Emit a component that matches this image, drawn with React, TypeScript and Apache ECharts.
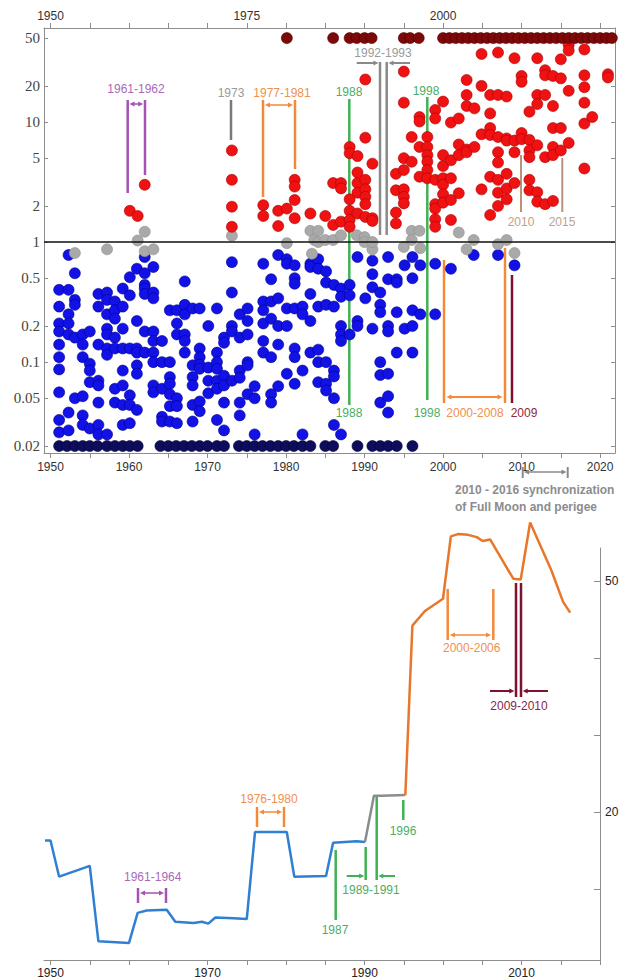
import React, { useEffect, useRef } from "react";
import * as echarts from "echarts";

// ---------- axes ----------
const YEAR_MIN = 1949.17;
const YEAR_MAX_TOP = 2021.9;
const YEAR_MAX_BOTTOM = 2020;
const RATIO_MIN = 0.0175;
const RATIO_MAX = 60.7;
const INDEX_MIN = 0.78;
const INDEX_MAX = 54.29;

const ratioTicks = [0.02, 0.05, 0.1, 0.2, 0.5, 1, 2, 5, 10, 20, 50];
const yearTicks = [1950, 1955, 1960, 1965, 1970, 1975, 1980, 1985, 1990, 1995, 2000, 2005, 2010, 2015, 2020];
const topYearLabels = [1950, 1975, 2000];
const bottomYearLabels = [1950, 1960, 1970, 1980, 1990, 2000, 2010, 2020];
const lowerYearLabels = [1950, 1970, 1990, 2010];
const indexTicks = [10, 20, 30, 40, 50];
const indexLabels = [20, 50];

// ---------- upper panel: ratio per event ----------
const belowOne: [number, number][] = [
  [1951.1, 0.4], [1951.1, 0.29], [1951.1, 0.21], [1951.1, 0.18], [1951.1, 0.14], [1951.1, 0.11], [1951.1, 0.087], [1951.1, 0.056], [1951.1, 0.033], [1951.1, 0.026],
  [1952.3, 0.78], [1952.3, 0.4], [1952.3, 0.25], [1952.3, 0.21], [1952.3, 0.17], [1952.3, 0.038], [1952.3, 0.027],
  [1953.1, 0.55], [1953.1, 0.33], [1953.1, 0.3], [1953.1, 0.16], [1953.1, 0.05],
  [1954.1, 0.17], [1954.1, 0.14], [1954.1, 0.11], [1954.1, 0.052], [1954.1, 0.036], [1954.1, 0.03],
  [1955.0, 0.18], [1955.0, 0.097], [1955.0, 0.085], [1955.0, 0.068], [1955.0, 0.028],
  [1956.1, 0.37], [1956.1, 0.29], [1956.1, 0.14], [1956.1, 0.07], [1956.1, 0.064], [1956.1, 0.046], [1956.1, 0.03], [1956.1, 0.025],
  [1957.2, 0.38], [1957.2, 0.33], [1957.2, 0.25], [1957.2, 0.19], [1957.2, 0.17], [1957.2, 0.13], [1957.2, 0.115], [1957.2, 0.025],
  [1958.2, 0.32], [1958.2, 0.27], [1958.2, 0.23], [1958.2, 0.16], [1958.2, 0.13], [1958.2, 0.06], [1958.2, 0.046],
  [1959.2, 0.41], [1959.2, 0.29], [1959.2, 0.19], [1959.2, 0.13], [1959.2, 0.085], [1959.2, 0.064], [1959.2, 0.044], [1959.2, 0.03],
  [1960.1, 0.51], [1960.1, 0.36], [1960.1, 0.13], [1960.1, 0.053], [1960.1, 0.044], [1960.1, 0.031],
  [1961.0, 0.6], [1961.0, 0.22], [1961.0, 0.13], [1961.0, 0.12], [1961.0, 0.094], [1961.0, 0.08], [1961.0, 0.04],
  [1962.0, 0.75], [1962.0, 0.55], [1962.0, 0.44], [1962.0, 0.41], [1962.0, 0.37], [1962.0, 0.18], [1962.0, 0.12],
  [1963.1, 0.62], [1963.1, 0.38], [1963.1, 0.34], [1963.1, 0.18], [1963.1, 0.15], [1963.1, 0.12], [1963.1, 0.1], [1963.1, 0.064], [1963.1, 0.056],
  [1964.2, 0.15], [1964.2, 0.1], [1964.2, 0.06], [1964.2, 0.035], [1964.2, 0.032],
  [1965.2, 0.27], [1965.2, 0.1], [1965.2, 0.075], [1965.2, 0.066], [1965.2, 0.054], [1965.2, 0.043], [1965.2, 0.032],
  [1966.1, 0.27], [1966.1, 0.21], [1966.1, 0.17], [1966.1, 0.05], [1966.1, 0.043], [1966.1, 0.031],
  [1967.1, 0.47], [1967.1, 0.3], [1967.1, 0.25], [1967.1, 0.17], [1967.1, 0.15], [1967.1, 0.12],
  [1968.1, 0.28], [1968.1, 0.094], [1968.1, 0.075], [1968.1, 0.064], [1968.1, 0.044], [1968.1, 0.032],
  [1969.0, 0.28], [1969.0, 0.13], [1969.0, 0.11], [1969.0, 0.095], [1969.0, 0.088], [1969.0, 0.047], [1969.0, 0.039],
  [1970.1, 0.2], [1970.1, 0.09], [1970.1, 0.07], [1970.1, 0.055],
  [1971.2, 0.28], [1971.2, 0.12], [1971.2, 0.1], [1971.2, 0.088], [1971.2, 0.07], [1971.2, 0.06], [1971.2, 0.033],
  [1972.1, 0.16], [1972.1, 0.145], [1972.1, 0.077], [1972.1, 0.064], [1972.1, 0.046], [1972.1, 0.027],
  [1973.1, 0.68], [1973.1, 0.38], [1973.1, 0.2], [1973.1, 0.18], [1973.1, 0.07],
  [1974.1, 0.25], [1974.1, 0.16], [1974.1, 0.085], [1974.1, 0.074], [1974.1, 0.046], [1974.1, 0.036],
  [1975.1, 0.28], [1975.1, 0.22], [1975.1, 0.17], [1975.1, 0.1], [1975.1, 0.094], [1975.1, 0.054],
  [1976.0, 0.063], [1976.0, 0.05], [1976.0, 0.025],
  [1977.1, 0.66], [1977.1, 0.32], [1977.1, 0.27], [1977.1, 0.21], [1977.1, 0.15], [1977.1, 0.12],
  [1978.1, 0.49], [1978.1, 0.32], [1978.1, 0.23], [1978.1, 0.11], [1978.1, 0.054], [1978.1, 0.046],
  [1979.0, 0.78], [1979.0, 0.34], [1979.0, 0.2], [1979.0, 0.14], [1979.0, 0.063],
  [1980.1, 0.72], [1980.1, 0.66], [1980.1, 0.28], [1980.1, 0.2], [1980.1, 0.08],
  [1981.1, 0.64], [1981.1, 0.5], [1981.1, 0.45], [1981.1, 0.28], [1981.1, 0.13], [1981.1, 0.11], [1981.1, 0.066],
  [1982.1, 0.29], [1982.1, 0.25], [1982.1, 0.085], [1982.1, 0.025],
  [1983.1, 0.66], [1983.1, 0.62], [1983.1, 0.37], [1983.1, 0.22], [1983.1, 0.12],
  [1984.1, 0.72], [1984.1, 0.6], [1984.1, 0.29], [1984.1, 0.127], [1984.1, 0.1], [1984.1, 0.068],
  [1985.1, 0.57], [1985.1, 0.46], [1985.1, 0.3], [1985.1, 0.1], [1985.1, 0.066], [1985.1, 0.058],
  [1986.1, 0.44], [1986.1, 0.29], [1986.1, 0.085], [1986.1, 0.076], [1986.1, 0.05], [1986.1, 0.03],
  [1987.0, 0.41], [1987.0, 0.35], [1987.0, 0.2], [1987.0, 0.17], [1987.0, 0.15], [1987.0, 0.025],
  [1988.1, 0.44], [1988.1, 0.36], [1988.1, 0.17],
  [1989.1, 0.75], [1989.1, 0.22], [1989.1, 0.2],
  [1990.1, 0.34],
  [1991.0, 0.7], [1991.0, 0.54], [1991.0, 0.42], [1991.0, 0.19],
  [1992.0, 0.38], [1992.0, 0.3], [1992.0, 0.26], [1992.0, 0.1], [1992.0, 0.078], [1992.0, 0.046],
  [1993.0, 0.75], [1993.0, 0.49], [1993.0, 0.2], [1993.0, 0.18], [1993.0, 0.08], [1993.0, 0.052], [1993.0, 0.038],
  [1994.1, 0.49], [1994.1, 0.46], [1994.1, 0.26], [1994.1, 0.12],
  [1995.1, 0.64], [1995.1, 0.19],
  [1996.1, 0.75], [1996.1, 0.5], [1996.1, 0.27], [1996.1, 0.2], [1996.1, 0.12],
  [1997.1, 0.64], [1997.1, 0.25],
  [1999.0, 0.66], [1999.0, 0.25],
  [2001.0, 0.6], [2003.9, 0.78], [2007.0, 0.78], [2009.1, 0.64],
];

const nearOne: [number, number][] = [
  [1953.1, 0.81], [1957.2, 0.87], [1961.1, 1.03], [1962.0, 1.22], [1962.0, 0.84], [1963.1, 0.87],
  [1973.1, 1.13], [1980.1, 0.98], [1983.1, 1.24], [1983.3, 0.8], [1983.6, 1.04], [1984.1, 1.24],
  [1984.1, 1.0], [1985.0, 1.04], [1986.0, 1.04], [1987.0, 1.14], [1989.0, 1.14], [1990.0, 1.1],
  [1990.0, 1.0], [1991.0, 0.87], [1991.0, 1.0], [1995.0, 0.91], [1996.0, 1.24], [1996.0, 1.04],
  [1997.0, 1.24], [1997.1, 0.89], [2002.0, 1.2], [2003.0, 0.87], [2003.9, 1.04], [2007.0, 0.96],
  [2008.1, 1.04], [2009.1, 0.81],
];

const aboveOne: [number, number][] = [
  [1960.1, 1.82], [1961.1, 1.65], [1962.0, 3.0],
  [1973.1, 5.8], [1973.1, 3.3], [1973.1, 1.97], [1973.1, 1.34],
  [1977.1, 2.03], [1977.1, 1.65], [1979.0, 1.82], [1979.0, 1.36], [1980.1, 1.9],
  [1981.1, 3.3], [1981.1, 2.9], [1981.1, 2.24], [1981.1, 1.58],
  [1983.1, 1.73], [1985.0, 1.65],
  [1986.0, 3.1], [1986.0, 1.39],
  [1987.0, 3.1], [1987.0, 2.8], [1987.0, 1.48],
  [1988.1, 6.2], [1988.1, 5.5], [1988.1, 2.27], [1988.1, 1.82], [1988.1, 1.53], [1988.1, 1.34],
  [1989.1, 5.2], [1989.1, 3.8], [1989.1, 3.1], [1989.1, 2.58], [1989.1, 1.73],
  [1990.1, 22.6], [1990.1, 7.4], [1990.1, 3.3], [1990.1, 2.75], [1990.1, 2.38], [1990.1, 2.07], [1990.1, 1.62],
  [1991.0, 4.5], [1991.0, 1.58], [1991.0, 1.5],
  [1994.0, 3.7], [1994.0, 2.7], [1994.0, 1.76], [1994.0, 1.43],
  [1995.0, 26.3], [1995.0, 14.5], [1995.0, 5.0], [1995.0, 3.98], [1995.0, 2.75], [1995.0, 2.38], [1995.0, 2.1],
  [1996.0, 7.5], [1996.0, 4.67],
  [1997.0, 11], [1997.0, 10.1], [1997.0, 6.2], [1997.0, 3.5],
  [1998.0, 7.5], [1998.0, 6.2], [1998.0, 5.3], [1998.0, 4.67], [1998.0, 3.98], [1998.0, 3.4],
  [1999.0, 12.6], [1999.0, 10.7], [1999.0, 3.3], [1999.0, 2.07], [1999.0, 1.9], [1999.0, 1.55], [1999.0, 1.34],
  [2000.0, 14.8], [2000.0, 5.3], [2000.0, 4.3], [2000.0, 3.4], [2000.0, 3.0], [2000.0, 2.5], [2000.0, 2.13],
  [2001.0, 9.9], [2001.0, 4.8], [2001.0, 3.4], [2001.0, 2.24], [2001.0, 1.53],
  [2002.0, 10.7], [2002.0, 6.5], [2002.0, 5.3], [2002.0, 2.55],
  [2003.0, 22.4], [2003.0, 16.8], [2003.0, 13.6], [2003.0, 5.9], [2003.0, 5.6],
  [2004.0, 13], [2004.0, 6.2],
  [2004.9, 36.9], [2004.9, 20], [2004.9, 7.9], [2004.9, 2.75],
  [2006.0, 16.8], [2006.0, 11.8], [2006.0, 8.9], [2006.0, 7.8], [2006.0, 3.5], [2006.0, 1.68],
  [2007.0, 37.9], [2007.0, 16.8], [2007.0, 7.5], [2007.0, 5.6], [2007.0, 4.6], [2007.0, 3.3], [2007.0, 2.58], [2007.0, 2.0],
  [2008.1, 16.3], [2008.1, 7.3], [2008.1, 7.0], [2008.1, 3.7], [2008.1, 2.8], [2008.1, 2.27],
  [2009.1, 34], [2009.1, 7.0], [2009.1, 5.6], [2009.1, 3.1],
  [2010.0, 24.2], [2010.0, 21.6], [2010.0, 8.1], [2010.0, 7.2],
  [2011.0, 12.2], [2011.0, 7.1], [2011.0, 5.8], [2011.0, 5.1], [2011.0, 3.3], [2011.0, 2.7],
  [2012.0, 34], [2012.0, 16.8], [2012.0, 14.1], [2012.0, 6.4], [2012.0, 2.6], [2012.0, 2.17],
  [2013.0, 27], [2013.0, 24.5], [2013.0, 16.8], [2013.0, 5.1], [2013.0, 2.07],
  [2014.0, 24.2], [2014.0, 13.6], [2014.0, 8.9], [2014.0, 6.2], [2014.0, 5.3], [2014.0, 2.2],
  [2015.0, 33.3], [2015.0, 23.1], [2015.0, 8.9], [2015.0, 5.8],
  [2016.0, 43.8], [2016.0, 39.4], [2016.0, 18.2], [2016.0, 6.7],
  [2018.0, 40.2], [2018.0, 24.5], [2018.0, 19.5], [2018.0, 14.5], [2018.0, 9.7], [2018.0, 4.1],
  [2019.0, 11], [2021.0, 25], [2021.0, 23.5],
];

const floorValue = 0.02;
const floorYears = [
  1951.1, 1952.1, 1953.1, 1954.1, 1955.0, 1956.0, 1957.2, 1958.2, 1959.2, 1960.1, 1961.1,
  1964.0, 1965.0, 1966.0, 1967.0, 1968.0, 1969.0, 1970.0, 1971.2, 1972.1,
  1974.0, 1975.0, 1976.0, 1977.0, 1978.0, 1979.0, 1980.0, 1981.0, 1982.1, 1983.1,
  1985.0, 1986.0, 1989.1, 1991.0, 1992.0, 1993.0, 1994.1, 1996.1,
];
const ceilingValue = 50;
const ceilingYears = [
  1980.1, 1986.0, 1988.1, 1989.0, 1990.0, 1990.9, 1995.0, 1995.8, 1996.9,
  2000.0, 2000.8, 2001.6, 2002.4, 2003.2, 2004.0, 2004.8, 2005.6, 2006.4, 2007.2, 2008.0,
  2008.8, 2009.6, 2010.4, 2011.2, 2012.0, 2012.8, 2013.6, 2014.4, 2015.2, 2016.0,
  2016.8, 2017.6, 2018.4, 2019.2, 2020.0, 2020.8, 2021.5,
];

// ---------- lower panel: index line ----------
const lineBlue: [number, number][] = [
  [1949.3, 16.3], [1950.0, 16.3], [1951.1, 11.6], [1955.0, 13.0], [1956.1, 3.2], [1960.0, 3.0],
  [1961.1, 6.9], [1962.25, 7.2], [1964.8, 7.3], [1965.9, 5.75], [1968.2, 5.6], [1969.3, 5.75],
  [1970.1, 5.5], [1971.0, 6.3], [1973.3, 6.2], [1975.0, 6.1], [1976.05, 17.4], [1980.1, 17.4],
  [1981.06, 11.6], [1985.1, 11.7], [1986.0, 16.0], [1989.0, 16.2], [1990.06, 16.1],
];
const lineGrey: [number, number][] = [
  [1990.06, 16.1], [1991.2, 22.1], [1992.2, 22.1], [1995.2, 22.2],
];
const lineOrange: [number, number][] = [
  [1995.2, 22.2], [1996.1, 44.2], [1997.7, 46.1], [2000.0, 47.7], [2001.0, 55.8], [2001.9, 56.1],
  [2003.2, 56.0], [2004.3, 55.7], [2005.05, 55.2], [2006.0, 55.4], [2008.95, 50.3], [2009.9, 50.2],
  [2011.1, 57.6], [2013.8, 51.4], [2015.3, 47.3], [2016.2, 45.9],
];

// ---------- annotation helpers ----------
const SANS = '"Liberation Sans", Arial, sans-serif';
const vline = (x: number, y1: number, y2: number, color: string, w = 2.5) => ({
  type: "line", z: 1, silent: true,
  shape: { x1: x, y1, x2: x, y2 },
  style: { stroke: color, lineWidth: w },
});
const label = (x: number, y: number, text: string, color: string, size = 12, weight = "normal", align = "center") => ({
  type: "text", z: 30, silent: true, x, y,
  style: {
    text, fill: color, font: `${weight} ${size}px ${SANS}`,
    align, verticalAlign: "middle", textAlign: align, textVerticalAlign: "middle",
  },
});
const head = (x: number, y: number, dir: number, color: string) => ({
  type: "polygon", z: 2, silent: true,
  shape: { points: [[x, y], [x - dir * 5, y - 2.6], [x - dir * 5, y + 2.6]] },
  style: { fill: color },
});
const arrow = (x1: number, x2: number, y: number, color: string, w = 2) => {
  const dir = x2 > x1 ? 1 : -1;
  return [
    { type: "line", z: 2, silent: true, shape: { x1, y1: y, x2: x2 - dir * 4, y2: y }, style: { stroke: color, lineWidth: w } },
    head(x2, y, dir, color),
  ];
};
const dArrow = (x1: number, x2: number, y: number, color: string, w = 1.5) => [
  { type: "line", z: 2, silent: true, shape: { x1: x1 + 4, y1: y, x2: x2 - 4, y2: y }, style: { stroke: color, lineWidth: w } },
  head(x1, y, -1, color),
  head(x2, y, 1, color),
];

const PURPLE = "#a552b3", PURPLE_T = "#a86ab8";
const ORANGE = "#f5893a", ORANGE_T = "#f0904e";
const GREEN = "#3fb254", GREEN_T = "#4eac66";
const GREY = "#8a8a8a", GREY_T = "#9a9a9a";
const TAN = "#b8937a", TAN_T = "#c3a08a";
const MAROON = "#7d1230", MAROON_T = "#8c2645";

const annotations: any[] = [
  // upper panel
  label(136, 89, "1961-1962", PURPLE_T),
  vline(127.7, 100, 193, PURPLE), vline(145, 100, 175, PURPLE),
  ...dArrow(129.5, 143.2, 104, PURPLE, 1.5),
  label(231, 93, "1973", GREY_T),
  vline(231, 100, 140, "#7a7a7a"),
  label(282, 93, "1977-1981", ORANGE_T),
  vline(263, 100, 197, ORANGE), vline(295, 100, 169, ORANGE),
  ...dArrow(265, 293, 105, ORANGE, 1.5),
  label(349, 92, "1988", GREEN_T),
  vline(349.3, 99, 405, GREEN),
  label(349, 413, "1988", GREEN_T),
  label(383, 53, "1992-1993", GREY_T),
  vline(380, 62, 235, GREY, 2.5), vline(386.7, 62, 235, GREY, 2.5),
  ...arrow(356.7, 378.5, 63, GREY, 2),
  ...arrow(410, 388.5, 63, GREY, 2),
  label(426, 91, "1998", GREEN_T),
  vline(427.3, 97, 400, GREEN),
  label(427, 413, "1998", GREEN_T),
  vline(521, 155, 212, TAN, 2), label(521, 222, "2010", TAN_T),
  vline(562.3, 158, 212, TAN, 2), label(562, 222, "2015", TAN_T),
  vline(444, 260, 403, ORANGE), vline(505, 248, 403, ORANGE),
  ...dArrow(446.5, 502.5, 397, ORANGE, 1.8),
  label(475, 413, "2000-2008", ORANGE_T),
  vline(512, 275, 403, MAROON), label(524, 413, "2009", MAROON_T),
  // synchronization bracket
  vline(522.7, 467, 478, GREY, 2), vline(567.7, 467, 478, GREY, 2),
  ...dArrow(524, 566.5, 472, GREY, 1.5),
  label(455, 490, "2010 - 2016 synchronization", "#8c8c8c", 12, "bold", "left"),
  label(455, 507, "of Full Moon and perigee", "#8c8c8c", 12, "bold", "left"),
  // lower panel
  label(152.7, 877, "1961-1964", PURPLE_T),
  vline(138, 888, 903, PURPLE), vline(166, 888, 903, PURPLE),
  ...dArrow(140, 164, 893, PURPLE, 1.5),
  label(269, 799, "1976-1980", ORANGE_T),
  vline(257, 807, 827, ORANGE), vline(284, 807, 827, ORANGE),
  ...dArrow(259, 282, 812, ORANGE, 1.5),
  vline(335.7, 850, 920, GREEN), label(335, 930, "1987", GREEN_T),
  vline(365.7, 847, 880, GREEN), vline(376.7, 797, 880, GREEN),
  ...arrow(346.7, 364.2, 876, GREEN, 2),
  ...arrow(395, 378.3, 876, GREEN, 2),
  label(371, 890, "1989-1991", GREEN_T),
  vline(403.3, 800, 820, GREEN), label(403, 831, "1996", GREEN_T),
  vline(447.7, 589, 640, ORANGE), vline(493.3, 589, 640, ORANGE),
  ...dArrow(450, 491, 635, ORANGE, 1.5),
  label(471.7, 648, "2000-2006", ORANGE_T),
  vline(516, 583, 697, MAROON), vline(521, 583, 697, MAROON),
  ...arrow(490, 514.3, 691, MAROON, 2),
  ...arrow(548, 522.7, 691, MAROON, 2),
  label(519, 706, "2009-2010", MAROON_T),
];

const lg = (v: number) => Math.log10(v);
const ratioLabel = (v: number) => {
  const t = ratioTicks.find((r) => Math.abs(lg(r) - v) < 1e-6);
  return t === undefined ? "" : String(t);
};
const AXIS_C = "#8d8d8d";

export default function App() {
  const ref = useRef<HTMLDivElement>(null);
  useEffect(() => {
    document.body.style.margin = "0";
    if (!ref.current) return;
    const chart = echarts.init(ref.current, undefined, { renderer: "svg" });
    const yearFmt = (v: number) => String(Math.round(v));
    const xCommon = (gridIndex: number, max: number) => ({
      type: "value", gridIndex, min: YEAR_MIN, max,
      splitLine: { show: false },
      axisLine: { show: true, onZero: false, lineStyle: { color: AXIS_C, width: 1 } },
      axisTick: { show: true, customValues: yearTicks, length: 5, lineStyle: { color: AXIS_C } },
    });
    chart.setOption({
      animation: false,
      backgroundColor: "#ffffff",
      grid: [
        { left: 44, top: 28, width: 571, height: 425 },
        { left: 44, top: 548, width: 556, height: 412 },
      ],
      xAxis: [
        { ...xCommon(0, YEAR_MAX_TOP), position: "bottom",
          axisLabel: { customValues: bottomYearLabels, formatter: yearFmt, color: "#333", fontSize: 12, fontFamily: SANS, margin: 8 } },
        { ...xCommon(0, YEAR_MAX_TOP), position: "top",
          axisLabel: { customValues: topYearLabels, formatter: yearFmt, color: "#333", fontSize: 12, fontFamily: SANS, margin: 6 } },
        { ...xCommon(1, YEAR_MAX_BOTTOM), position: "bottom",
          axisLabel: { customValues: lowerYearLabels, formatter: yearFmt, color: "#222", fontSize: 12, fontFamily: SANS, margin: 7 } },
      ],
      yAxis: [
        { type: "value", gridIndex: 0, position: "left", min: lg(RATIO_MIN), max: lg(RATIO_MAX),
          splitLine: { show: false },
          axisLine: { show: true, onZero: false, lineStyle: { color: AXIS_C } },
          axisTick: { show: true, inside: true, length: 4, customValues: ratioTicks.map(lg), lineStyle: { color: AXIS_C } },
          axisLabel: { customValues: ratioTicks.map(lg), formatter: ratioLabel, color: "#444", fontSize: 15, fontFamily: '"Liberation Serif", "Times New Roman", serif', margin: 4 } },
        { type: "value", gridIndex: 0, position: "right", min: lg(RATIO_MIN), max: lg(RATIO_MAX),
          splitLine: { show: false },
          axisLine: { show: true, onZero: false, lineStyle: { color: AXIS_C } },
          axisTick: { show: true, inside: true, length: 4, customValues: ratioTicks.map(lg), lineStyle: { color: AXIS_C } },
          axisLabel: { show: false } },
        { type: "value", gridIndex: 1, position: "right", min: INDEX_MIN, max: INDEX_MAX,
          splitLine: { show: false },
          axisLine: { show: true, onZero: false, lineStyle: { color: AXIS_C } },
          axisTick: { show: true, inside: true, length: 6, customValues: indexTicks, lineStyle: { color: AXIS_C } },
          axisLabel: { customValues: indexLabels, color: "#222", fontSize: 12, fontFamily: SANS, margin: 5 } },
      ],
      series: [
        { type: "scatter", name: "below", xAxisIndex: 0, yAxisIndex: 0, symbolSize: 11, z: 3,
          data: belowOne.map(([x, v]) => [x, lg(v)]),
          itemStyle: { color: "#1212e6", borderColor: "#00008c", borderWidth: 0.6, opacity: 1 },
          markLine: { silent: true, symbol: "none", data: [{ yAxis: 0 }], label: { show: false },
            lineStyle: { color: "#111", width: 1.5, type: "solid" }, animation: false } },
        { type: "scatter", name: "floor", xAxisIndex: 0, yAxisIndex: 0, symbolSize: 11, z: 3,
          data: floorYears.map((x) => [x, lg(floorValue)]),
          itemStyle: { color: "#0d0d5c", borderColor: "#05053a", borderWidth: 0.6, opacity: 1 } },
        { type: "scatter", name: "near", xAxisIndex: 0, yAxisIndex: 0, symbolSize: 11, z: 4,
          data: nearOne.map(([x, v]) => [x, lg(v)]),
          itemStyle: { color: "#a9a9a9", borderColor: "#8f8f8f", borderWidth: 0.6, opacity: 1 } },
        { type: "scatter", name: "above", xAxisIndex: 0, yAxisIndex: 0, symbolSize: 11, z: 5,
          data: aboveOne.map(([x, v]) => [x, lg(v)]),
          itemStyle: { color: "#f01212", borderColor: "#a80000", borderWidth: 0.6, opacity: 1 } },
        { type: "scatter", name: "ceiling", xAxisIndex: 0, yAxisIndex: 0, symbolSize: 11, z: 5,
          data: ceilingYears.map((x) => [x, lg(ceilingValue)]),
          itemStyle: { color: "#7c0808", borderColor: "#500000", borderWidth: 0.6, opacity: 1 } },
        { type: "line", xAxisIndex: 2, yAxisIndex: 2, data: lineBlue, showSymbol: false, symbol: "none", clip: false,
          lineStyle: { color: "#2f80d2", width: 2.5 }, z: 3 },
        { type: "line", xAxisIndex: 2, yAxisIndex: 2, data: lineGrey, showSymbol: false, symbol: "none", clip: false,
          lineStyle: { color: "#8c8c8c", width: 2.5 }, z: 3 },
        { type: "line", xAxisIndex: 2, yAxisIndex: 2, data: lineOrange, showSymbol: false, symbol: "none", clip: false,
          lineStyle: { color: "#e8772c", width: 2.5 }, z: 3 },
      ],
      graphic: { elements: annotations },
    });
    return () => chart.dispose();
  }, []);
  return <div ref={ref} style={{ width: 623, height: 980 }} />;
}
